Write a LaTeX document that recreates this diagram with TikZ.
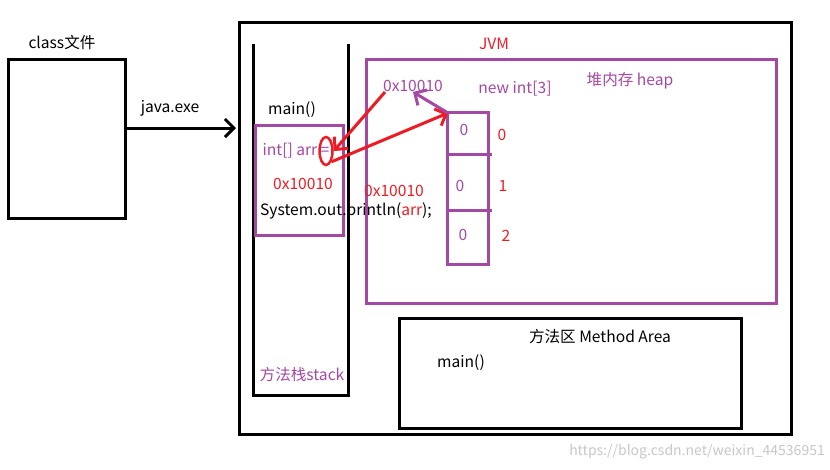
\documentclass[tikz,border=0pt]{standalone}
\usepackage{fontspec}
\setmainfont{Noto Sans CJK SC}
\usetikzlibrary{arrows.meta, shapes.geometric}
\definecolor{paintpurple}{HTML}{A349A4}
\definecolor{paintred}{HTML}{ED1C24}
\tikzset{
  heapbox/.style={draw=paintpurple, line width=3pt},
  txt/.style={font=\fontsize{15.6}{18}\selectfont, inner sep=0pt},
  ptxt/.style={txt, text=paintpurple},
  rtxt/.style={txt, text=paintred},
  barb/.style={-{Straight Barb[length=9pt,width=18pt]}},
}
\begin{document}
\begin{tikzpicture}[x=1pt, y=-1pt]
    \useasboundingbox (0,0) rectangle (830,469);

    % class file and JVM frame
    \draw[line width=3pt] (8,59) rectangle (125,218);
    \node[txt] (classlabel) at (62,43) {class文件};
    \draw[line width=3pt] (239,22) rectangle (791,434);
    \node[rtxt] (jvm) at (494,44) {JVM};
    \coordinate (arrowstart) at (125,128);
    \coordinate (arrowend) at (236,128);
    \draw[line width=3pt, barb] (arrowstart) -- (arrowend);
    \node[txt] (javaexe) at (170,108) {java.exe};

    % method stack (open at the top)
    \draw[line width=3pt] (253,44) -- (253,395) -- (348,395) -- (348,44);
    \node[ptxt] (stacklabel) at (302,375) {方法栈stack};
    \node[txt] (mainframe) at (292,110) {main()};
    \draw[heapbox] (255,125) rectangle (343,235);
    \node[ptxt] (arr) at (296,151) {int[] arr =};
    \node[rtxt] (addrstack) at (303,184) {0x10010};
    \node[txt] (println) at (346,211) {System.out.println(\textcolor{paintred}{arr});};

    % heap
    \draw[heapbox] (366,59) rectangle (776,303);
    \node[ptxt] (heaplabel) at (630,81) {堆内存 heap};
    \node[ptxt] (addrheap) at (413,86) {0x10010};
    \node[ptxt] (newint) at (515,89) {new int[3]};
    \node[rtxt] (addrside) at (394,191) {0x10010};
    \draw[heapbox] (447,112) rectangle (488,264);
    \draw[heapbox] (447,154) -- (492,154);
    \draw[heapbox] (447,210) -- (492,210);
    \node[ptxt] (cell0) at (464,130) {0};
    \node[ptxt] (cell1) at (460,186) {0};
    \node[ptxt] (cell2) at (463,235) {0};
    \node[rtxt] (idx0) at (502,135) {0};
    \node[rtxt] (idx1) at (503,186) {1};
    \node[rtxt] (idx2) at (506,236) {2};
    \coordinate (arraytop) at (448,113);

    % references
    \node[draw=paintred, line width=2.5pt, ellipse, minimum width=13pt, minimum height=28pt, inner sep=0pt] (eq) at (326,151) {};
    \coordinate (addrfoot) at (385,92);
    \draw[paintred, line width=3pt, barb] (addrfoot) -- (eq.east);
    \draw[paintred, line width=3pt, barb] (eq.south east) -- (arraytop);
    \draw[paintpurple, line width=3pt, barb] (arraytop) -- (addrheap.south);

    % method area
    \draw[line width=3pt] (399,318) rectangle (741,428);
    \node[txt] (methodarea) at (600,337) {方法区 Method Area};
    \node[txt] (mainmethod) at (461,363) {main()};

    \node[txt, font=\fontsize{14}{16}\selectfont, text=black!22, anchor=east] (mark) at (825,452) {https://blog.csdn.net/weixin\_44536951};
\end{tikzpicture}
\end{document}
